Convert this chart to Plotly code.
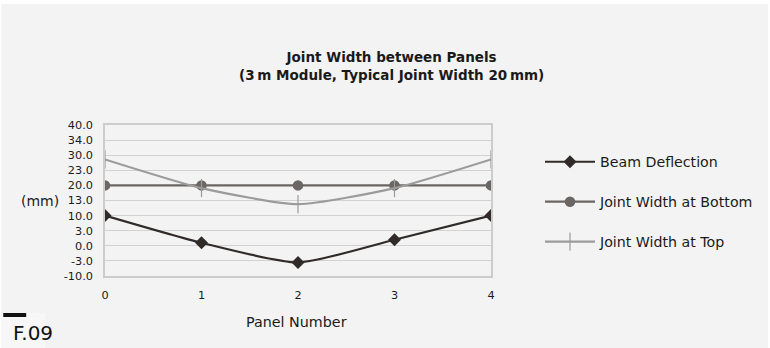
import plotly.graph_objects as go

# Panel positions along the span
panels = [0, 1, 2, 3, 4]

# Measured values (mm)
beam_deflection = [10.0, 1.0, -5.5, 2.0, 10.0]
joint_bottom = [20.0, 20.0, 20.0, 20.0, 20.0]
joint_top = [28.6, 19.1, 13.8, 19.1, 28.6]

# Y-axis gridline values and their printed labels
y_tick_vals = [-10, -5, 0, 5, 10, 15, 20, 25, 30, 35, 40]
y_tick_text = ["-10.0", "-3.0", "0.0", "3.0", "10.0", "13.0", "20.0", "23.0", "30.0", "34.0", "40.0"]

FONT = "DejaVu Sans"
W, H = 770, 348
ML, MR, MT, MB = 105, 278, 125, 72
PW, PH = W - ML - MR, H - MT - MB


def px_x(x):
    return (x - ML) / PW


def px_y(y):
    return (H - MB - y) / PH


fig = go.Figure()

fig.add_trace(go.Scatter(
    x=panels, y=beam_deflection, name="Beam Deflection", legendgroup="a",
    mode="lines+markers", line=dict(color="#302b29", width=2.2, shape="spline", smoothing=0.6),
    marker=dict(symbol="diamond", size=10, color="#302b29"),
))
fig.add_trace(go.Scatter(
    x=panels, y=joint_bottom, name="Joint Width at Bottom", legendgroup="b",
    mode="lines+markers", line=dict(color="#6b6664", width=2.2),
    marker=dict(symbol="circle", size=10.5, color="#6b6664"),
))
fig.add_trace(go.Scatter(
    x=panels, y=joint_top, name="Joint Width at Top", legendgroup="c",
    mode="lines+markers", line=dict(color="#9b9b9b", width=2.2, shape="spline", smoothing=0.6),
    marker=dict(symbol="line-ns", size=13, line=dict(color="#9b9b9b", width=1.2)),
))

shapes = [
    # grey panel behind everything
    dict(type="rect", xref="paper", yref="paper", layer="below",
         x0=px_x(1), x1=px_x(W), y0=px_y(H), y1=px_y(4),
         fillcolor="#f3f3f3", line=dict(width=0)),
    # lighter tab behind the figure number
    dict(type="rect", xref="paper", yref="paper", layer="below",
         x0=px_x(1), x1=px_x(45), y0=px_y(H), y1=px_y(313),
         fillcolor="#f7f7f7", line=dict(width=0)),
    # black bar above the figure number
    dict(type="rect", xref="paper", yref="paper",
         x0=px_x(3), x1=px_x(26), y0=px_y(317), y1=px_y(313),
         fillcolor="#111111", line=dict(width=0)),
]

annotations = [
    dict(text="<b>Joint Width between Panels<br>(3\u2009m Module, Typical Joint Width 20\u2009mm)</b>",
         xref="paper", yref="paper", x=px_x(392), y=px_y(66), xanchor="center", yanchor="middle",
         showarrow=False, font=dict(family=FONT, size=13.5, color="#1a1a1a"), align="center"),
    dict(text="(mm)", xref="paper", yref="paper", x=px_x(19), y=px_y(201),
         xanchor="left", yanchor="middle", showarrow=False,
         font=dict(family=FONT, size=14, color="#1a1a1a")),
    dict(text="Panel Number", xref="paper", yref="paper", x=px_x(297), y=px_y(322),
         xanchor="center", yanchor="middle", showarrow=False,
         font=dict(family=FONT, size=14.3, color="#1a1a1a")),
    dict(text="F.09", xref="paper", yref="paper", x=px_x(11), y=px_y(333),
         xanchor="left", yanchor="middle", showarrow=False,
         font=dict(family=FONT, size=20, color="#111111")),
]

fig.update_layout(
    width=W, height=H,
    margin=dict(l=ML, r=MR, t=MT, b=MB, pad=0),
    paper_bgcolor="white", plot_bgcolor="#f3f3f3",
    font=dict(family=FONT, size=11.3, color="#1a1a1a"),
    showlegend=True,
    legend=dict(x=px_x(540), y=px_y(146), xanchor="left", yanchor="top",
                bgcolor="rgba(0,0,0,0)", font=dict(family=FONT, size=14.2, color="#1a1a1a"),
                tracegroupgap=18.5, itemwidth=50),
    shapes=shapes,
    annotations=annotations,
)

fig.update_xaxes(range=[0, 4], tickvals=panels, ticktext=[str(p) for p in panels],
                 showgrid=False, zeroline=False, showline=True, linecolor="#cccccc", linewidth=1.5,
                 mirror=True, ticks="", ticklabelstandoff=8, tickfont=dict(size=11.3))
fig.update_yaxes(range=[-10, 40], tickvals=y_tick_vals, ticktext=y_tick_text,
                 showgrid=True, gridcolor="#d2d2d2", gridwidth=1.2, zeroline=False,
                 showline=True, linecolor="#cccccc", linewidth=1.5, mirror=True, ticks="",
                 ticklabelstandoff=8, tickfont=dict(size=11.3))

fig.write_html("out.html")
